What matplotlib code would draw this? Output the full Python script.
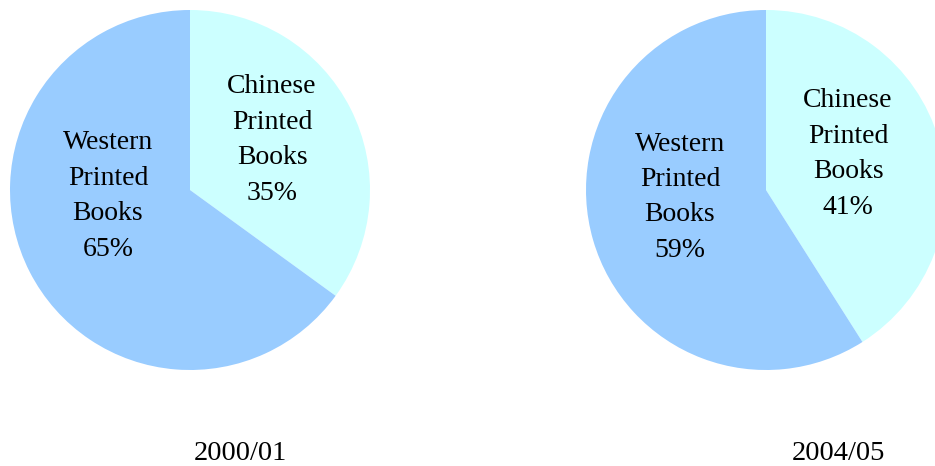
import matplotlib
matplotlib.use("Agg")
from matplotlib import pyplot as plt

plt.rcParams['font.family'] = ['Liberation Serif', 'DejaVu Serif']

categories = ["Chinese\nPrinted\nBooks", "Western\nPrinted\nBooks"]
years = ["2000/01", "2004/05"]
shares_2000 = [35, 65]
shares_2004 = [41, 59]
colors = ["#CCFFFF", "#99CCFF"]

W, H = 935, 466
fig = plt.figure(figsize=[W / 100, H / 100], dpi=100)

# pie axes placed in pixel terms: (left, bottom-from-top, diameter)
panels = [
    (10, 370, shares_2000, [(0.456, 0.278), (-0.456, -0.033)], (240, 453)),
    (586, 370, shares_2004, [(0.456, 0.20), (-0.478, -0.04)], (838, 453)),
]
d = 360
for (x0, ybot, shares, label_pos, title_pos), year in zip(panels, years):
    ax = fig.add_axes([x0 / W, (H - ybot) / H, d / W, d / H])
    ax.pie(shares, colors=colors, startangle=90, counterclock=False,
           wedgeprops={'linewidth': 0})
    ax.set_xlim(-1, 1)
    ax.set_ylim(-1, 1)
    ax.set_aspect('auto')
    for cat, val, (lx, ly) in zip(categories, shares, label_pos):
        ax.text(lx, ly, "%s\n%d%%" % (cat, val), ha='center', va='center',
                fontsize=20, linespacing=1.55, color='black')
    fig.text(title_pos[0] / W, 1 - title_pos[1] / H, year, ha='center',
             va='center', fontsize=20.5)

plt.savefig("out.png", dpi=100)
